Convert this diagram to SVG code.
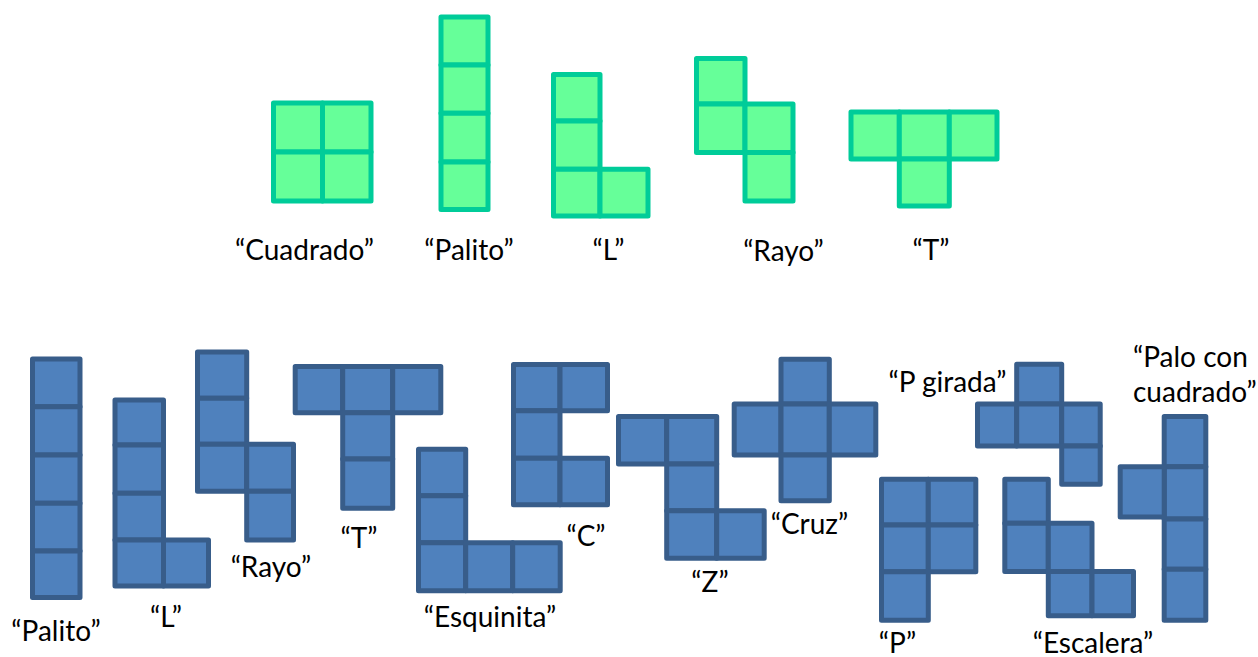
<svg xmlns="http://www.w3.org/2000/svg" width="1258" height="657" viewBox="0 0 1258 657">
  <style>
    .g rect { fill: #66FF99; stroke: #00CC99; stroke-width: 5; stroke-linejoin: round; }
    .b rect { fill: #4F81BD; stroke: #385D8A; stroke-width: 5; stroke-linejoin: round; }
    text { font-family: "Lato", "Liberation Sans", sans-serif; font-size: 28px; fill: #000; }
    .c { text-anchor: middle; }
  </style>
  <rect width="1258" height="657" fill="#fff"/>

  <!-- Tetrominoes (green) -->
  <g id="t-cuadrado" class="g">
    <rect x="273.5" y="103" width="49" height="49"/>
    <rect x="322.5" y="103" width="48.5" height="49"/>
    <rect x="273.5" y="152" width="49" height="49"/>
    <rect x="322.5" y="152" width="48.5" height="49"/>
    <text class="c" x="304.5" y="260">“Cuadrado”</text>
  </g>
  <g id="t-palito" class="g">
    <rect x="441" y="17" width="47" height="48"/>
    <rect x="441" y="65" width="47" height="48.3"/>
    <rect x="441" y="113.3" width="47" height="48.7"/>
    <rect x="441" y="162" width="47" height="47.5"/>
    <text class="c" x="469" y="260">“Palito”</text>
  </g>
  <g id="t-l" class="g">
    <rect x="553.5" y="74.5" width="46.5" height="46.5"/>
    <rect x="553.5" y="121" width="46.5" height="48.3"/>
    <rect x="553.5" y="169.3" width="46.5" height="46.7"/>
    <rect x="600" y="169.3" width="48" height="46.7"/>
    <text class="c" x="608.5" y="260">“L”</text>
  </g>
  <g id="t-rayo" class="g">
    <rect x="696.5" y="58.5" width="48.5" height="45.5"/>
    <rect x="696.5" y="104" width="48.5" height="48.5"/>
    <rect x="745" y="104" width="48" height="48.5"/>
    <rect x="745" y="152.5" width="48" height="48.5"/>
    <text class="c" x="783.5" y="260.5">“Rayo”</text>
  </g>
  <g id="t-t" class="g">
    <rect x="851" y="112" width="48.3" height="47"/>
    <rect x="899.3" y="112" width="50" height="47"/>
    <rect x="949.3" y="112" width="47.7" height="47"/>
    <rect x="899.3" y="159" width="50" height="47"/>
    <text class="c" x="931" y="260">“T”</text>
  </g>

  <!-- Pentominoes (blue) -->
  <g id="p-palito" class="b">
    <rect x="32.5" y="359" width="47.5" height="47.7"/>
    <rect x="32.5" y="406.7" width="47.5" height="48.3"/>
    <rect x="32.5" y="455" width="47.5" height="48.3"/>
    <rect x="32.5" y="503.3" width="47.5" height="47.7"/>
    <rect x="32.5" y="551" width="47.5" height="46.5"/>
    <text class="c" x="56" y="640.7">“Palito”</text>
  </g>
  <g id="p-l" class="b">
    <rect x="115" y="400" width="48.5" height="45"/>
    <rect x="115" y="445" width="48.5" height="48.3"/>
    <rect x="115" y="493.3" width="48.5" height="46.7"/>
    <rect x="115" y="540" width="48.5" height="46"/>
    <rect x="163.5" y="540" width="45" height="46"/>
    <text class="c" x="166" y="626.7">“L”</text>
  </g>
  <g id="p-rayo" class="b">
    <rect x="197.5" y="352" width="49.2" height="46.3"/>
    <rect x="197.5" y="398.3" width="49.2" height="46"/>
    <rect x="197.5" y="444.3" width="49.2" height="47"/>
    <rect x="246.7" y="444.3" width="46.8" height="47"/>
    <rect x="246.7" y="491.3" width="46.8" height="48.7"/>
    <text class="c" x="271" y="576.7">“Rayo”</text>
  </g>
  <g id="p-t" class="b">
    <rect x="295.2" y="366.5" width="47.5" height="46.2"/>
    <rect x="342.7" y="366.5" width="50" height="46.2"/>
    <rect x="392.7" y="366.5" width="48.1" height="46.2"/>
    <rect x="342.7" y="412.7" width="50" height="46.3"/>
    <rect x="342.7" y="459" width="50" height="49.2"/>
    <text class="c" x="359" y="548">“T”</text>
  </g>
  <g id="p-esquinita" class="b">
    <rect x="418.5" y="449.2" width="47.2" height="46.5"/>
    <rect x="418.5" y="495.7" width="47.2" height="47"/>
    <rect x="418.5" y="542.7" width="47.2" height="48.1"/>
    <rect x="465.7" y="542.7" width="47" height="48.1"/>
    <rect x="512.7" y="542.7" width="47.5" height="48.1"/>
    <text class="c" x="490" y="626.7">“Esquinita”</text>
  </g>
  <g id="p-c" class="b">
    <rect x="513.5" y="364.5" width="46.5" height="46.2"/>
    <rect x="560" y="364.5" width="47.5" height="46.2"/>
    <rect x="513.5" y="410.7" width="46.5" height="47.6"/>
    <rect x="513.5" y="458.3" width="46.5" height="46.5"/>
    <rect x="560" y="458.3" width="47.5" height="46.5"/>
    <text class="c" x="586" y="546">“C”</text>
  </g>
  <g id="p-z" class="b">
    <rect x="618.5" y="416.5" width="48.2" height="47.5"/>
    <rect x="666.7" y="416.5" width="50" height="47.5"/>
    <rect x="666.7" y="464" width="50" height="46.7"/>
    <rect x="666.7" y="510.7" width="50" height="47.5"/>
    <rect x="716.7" y="510.7" width="47.5" height="47.5"/>
    <text class="c" x="710" y="591.7">“Z”</text>
  </g>
  <g id="p-cruz" class="b">
    <rect x="781" y="359.2" width="48.3" height="44.8"/>
    <rect x="734.2" y="404" width="46.8" height="51"/>
    <rect x="781" y="404" width="48.3" height="51"/>
    <rect x="829.3" y="404" width="46.5" height="51"/>
    <rect x="781" y="455" width="48.3" height="45.8"/>
    <text class="c" x="809.5" y="534">“Cruz”</text>
  </g>
  <g id="p-pgirada" class="b">
    <rect x="1016.7" y="364.2" width="45" height="39.8"/>
    <rect x="977.5" y="404" width="39.2" height="42"/>
    <rect x="1016.7" y="404" width="45" height="42"/>
    <rect x="1061.7" y="404" width="38.5" height="42"/>
    <rect x="1061.7" y="446" width="38.5" height="38.2"/>
    <text class="c" x="947.5" y="391.7">“P girada”</text>
  </g>
  <g id="p-p" class="b">
    <rect x="881.5" y="479.2" width="46.8" height="45.8"/>
    <rect x="928.3" y="479.2" width="47.5" height="45.8"/>
    <rect x="881.5" y="525" width="46.8" height="46.7"/>
    <rect x="928.3" y="525" width="47.5" height="46.7"/>
    <rect x="881.5" y="571.7" width="46.8" height="48.5"/>
    <text class="c" x="897.5" y="652.7">“P”</text>
  </g>
  <g id="p-escalera" class="b">
    <rect x="1004.8" y="479.2" width="43.5" height="44.1"/>
    <rect x="1004.8" y="523.3" width="43.5" height="48.2"/>
    <rect x="1048.3" y="523.3" width="43.7" height="48.2"/>
    <rect x="1048.3" y="571.5" width="43.7" height="44.3"/>
    <rect x="1092" y="571.5" width="41.5" height="44.3"/>
    <text class="c" x="1093" y="652.7">“Escalera”</text>
  </g>
  <g id="p-palo-cuadrado" class="b">
    <rect x="1164.2" y="416.5" width="41.6" height="50.2"/>
    <rect x="1164.2" y="466.7" width="41.6" height="52.3"/>
    <rect x="1164.2" y="519" width="41.6" height="50.3"/>
    <rect x="1164.2" y="569.3" width="41.6" height="50.9"/>
    <rect x="1120.2" y="466.7" width="44" height="50.3"/>
    <text x="1133" y="366.7">“Palo con</text>
    <text x="1133" y="401.7">cuadrado”</text>
  </g>
</svg>
